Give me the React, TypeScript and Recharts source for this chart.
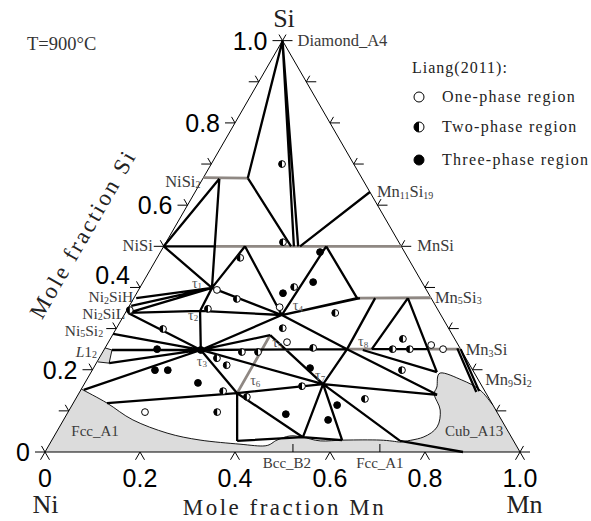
import React from 'react';
import { ScatterChart, Scatter, XAxis, YAxis } from 'recharts';

type Comp = [number, number]; // [x(Mn), x(Si)]

// ---------------- data ----------------
const siTicks = [0, 0.1, 0.2, 0.3, 0.4, 0.5, 0.6, 0.7, 0.8, 0.9, 1.0];
const mnTicks = [0, 0.2, 0.4, 0.6, 0.8, 1.0];
const siTickLabels = [
  { v: 0, t: '0' }, { v: 0.2, t: '0.2' }, { v: 0.4, t: '0.4' },
  { v: 0.6, t: '0.6' }, { v: 0.8, t: '0.8' }, { v: 1.0, t: '1.0' },
];
const mnTickLabels = [
  { v: 0, t: '0' }, { v: 0.2, t: '0.2' }, { v: 0.4, t: '0.4' },
  { v: 0.6, t: '0.6' }, { v: 0.8, t: '0.8' }, { v: 1.0, t: '1.0' },
];
const bottomPointers = [0.522, 0.705];

const nodes: Record<string, Comp> = {
  S: [0, 1],
  NiSi2E: [0, 0.667], NiSi2M: [0.035, 0.664], NiSi2R: [0.094, 0.666],
  NiSiE: [0, 0.5], NiSiB: [0.11, 0.5], MnSiE: [0.5, 0.5],
  m245: [0.171, 0.5], m291: [0.268, 0.5], m294: [0.274, 0.5], m298: [0.283, 0.5],
  m300: [0.287, 0.5], m326: [0.342, 0.5],
  Mn11Si19: [0.368, 0.632],
  T1: [0.152, 0.399], T2: [0.155, 0.343], T3: [0.204, 0.248], T4: [0.332, 0.333],
  T5: [0.332, 0.284], T6: [0.333, 0.143], T7: [0.503, 0.165], T8: [0.511, 0.25],
  Mn5Si3E: [0.625, 0.375], a357: [0.47, 0.374], a360: [0.476, 0.374],
  a375: [0.508, 0.374], a408: [0.577, 0.374],
  Mn3SiE: [0.75, 0.25], Mn3SiE2: [0.742, 0.252], b363: [0.545, 0.248], b372: [0.563, 0.25],
  b427: [0.679, 0.25], b428: [0.681, 0.25],
  Mn9Si2: [0.84, 0.148], Mn9Si2b: [0.835, 0.146],
  Ni2SiH: [0.005, 0.374], Ni2SiM: [0.004, 0.355], Ni2SiL: [0.006, 0.338], Ni5Si2: [0, 0.287],
  L12a: [0.017, 0.248], L12b: [0.027, 0.216], FccL: [0.006, 0.151], F107: [0.071, 0.119],
  c237: [0.391, 0.027], c303: [0.525, 0.036], c342: [0.611, 0.029],
  r437: [0.756, 0.139], r437b: [0.728, 0.194], r400: [0.734, 0.027], r463: [0.88, 0],
};

const tieLines: [string, string][] = [
  ['S', 'NiSi2R'], ['S', 'm294'], ['S', 'm298'], ['NiSi2R', 'm291'], ['Mn11Si19', 'm300'],
  ['NiSiE', 'NiSi2M'], ['NiSi2M', 'T1'], ['NiSiE', 'NiSiB'], ['NiSiE', 'T1'],
  ['T1', 'm245'], ['m245', 'T4'], ['T4', 'm326'], ['m326', 'a357'], ['T4', 'a357'], ['T4', 'a360'],
  ['Ni2SiH', 'T1'], ['Ni2SiM', 'T1'], ['Ni2SiL', 'T1'], ['T1', 'T2'], ['T1', 'T4'],
  ['Ni2SiL', 'T2'], ['T2', 'T4'], ['T2', 'T3'], ['Ni2SiL', 'T3'], ['T4', 'T3'], ['T4', 'T8'],
  ['Ni5Si2', 'T3'], ['L12a', 'T3'], ['L12b', 'T3'], ['FccL', 'T3'],
  ['F107', 'T6'], ['T6', 'T7'], ['T3', 'T6'], ['T3', 'T8'], ['T8', 'T7'], ['a375', 'T8'],
  ['a408', 'b372'], ['a408', 'r437b'], ['b372', 'b427'],
  ['Mn3SiE', 'Mn9Si2'], ['Mn3SiE2', 'Mn9Si2b'],
  ['T6', 'c237'], ['T6', 'c303'], ['c237', 'c303'], ['c303', 'T7'], ['T7', 'c342'], ['c303', 'c342'],
  ['T7', 'r437'], ['T7', 'r400'], ['T8', 'r437'], ['b363', 'r437b'], ['r400', 'r463'],
  ['T3', 'T7'], ['T5', 'T7'], ['T3', 'T5'],
];

const grayLines: [string, string][] = [
  ['NiSi2E', 'NiSi2R'], ['NiSiB', 'MnSiE'], ['a357', 'Mn5Si3E'],
  ['T8', 'b372'], ['b428', 'Mn3SiE'], ['T6', 'T5'],
];

// single-phase regions: curved boundary + straight closing points along edges
const fccNiRegion = {
  curve: [
    [0, 0.153], [0.071, 0.119], [0.146, 0.078], [0.234, 0.046], [0.312, 0.029],
    [0.401, 0.019], [0.456, 0.015], [0.474, 0.029], [0.496, 0.039], [0.525, 0.036],
    [0.566, 0.027], [0.617, 0.029], [0.691, 0.029], [0.735, 0.024],
  ] as Comp[],
  close: [[0.75, 0], [0, 0]] as Comp[],
};
const cubRegion = {
  curve: [
    [0.886, 0.114], [0.84, 0.151], [0.79, 0.175], [0.736, 0.192], [0.746, 0.158],
    [0.75, 0.139], [0.781, 0.102], [0.795, 0.061], [0.778, 0.036], [0.735, 0.024],
  ] as Comp[],
  close: [[0.74, 0], [1, 0]] as Comp[],
};
const l12Region = {
  curve: [[0, 0.253], [0.017, 0.248], [0.027, 0.216], [0.002, 0.219]] as Comp[],
  close: [] as Comp[],
};

const onePhasePts: Comp[] = [
  [0.162, 0.097], [0.376, 0.267], [0.318, 0.352], [0.165, 0.394], [0.683, 0.26], [0.713, 0.25],
];
const twoPhasePts: Comp[] = [
  [0.149, 0.7], [0.246, 0.51], [0.175, 0.472], [0.218, 0.372], [0.169, 0.348], [0.099, 0.299],
  [0.324, 0.401], [0.442, 0.338], [0.35, 0.301], [0.438, 0.253], [0.293, 0.243], [0.327, 0.243],
  [0.248, 0.228], [0.277, 0.211], [0.301, 0.148], [0.461, 0.16], [0.358, 0.134], [0.314, 0.097],
  [0.609, 0.129], [0.652, 0.199], [0.607, 0.25], [0.643, 0.25], [0.616, 0.275], [0.006, 0.345],
];
const threePhasePts: Comp[] = [
  [0.308, 0.386], [0.358, 0.413], [0.336, 0.486], [0.111, 0.25], [0.132, 0.199], [0.159, 0.199],
  [0.204, 0.248], [0.238, 0.168], [0.456, 0.204], [0.558, 0.114], [0.557, 0.078], [0.461, 0.092],
];

const phaseLabels: { text: string; at: Comp }[] = [
  { text: 'Diamond_A4', at: [0, 1] },
  { text: 'NiSi~2~', at: [0, 0.667] },
  { text: 'NiSi', at: [0, 0.5] },
  { text: 'Ni~2~SiH', at: [0.005, 0.374] },
  { text: 'Ni~2~SiL', at: [0.006, 0.338] },
  { text: 'Ni~5~Si~2~', at: [0, 0.287] },
  { text: 'L12', at: [0, 0.253] },
  { text: 'Mn~11~Si~19~', at: [0.368, 0.632] },
  { text: 'MnSi', at: [0.5, 0.5] },
  { text: 'Mn~5~Si~3~', at: [0.625, 0.375] },
  { text: 'Mn~3~Si', at: [0.75, 0.25] },
  { text: 'Mn~9~Si~2~', at: [0.84, 0.148] },
  { text: 'Fcc_A1', at: [0.08, 0.051] },
  { text: 'Cub_A13', at: [0.878, 0.051] },
  { text: 'Bcc_B2', at: [0.522, 0] },
  { text: 'Fcc_A1 ', at: [0.705, 0] },
];

const tauLabels: { text: string; node: string }[] = [
  { text: 'τ~1~', node: 'T1' }, { text: 'τ~2~', node: 'T2' }, { text: 'τ~3~', node: 'T3' },
  { text: 'τ~4~', node: 'T4' }, { text: 'τ~5~', node: 'T5' }, { text: 'τ~6~', node: 'T6' },
  { text: 'τ~7~', node: 'T7' }, { text: 'τ~8~', node: 'T8' },
];

const legendItems = [
  { kind: 'one', text: 'One-phase region' },
  { kind: 'two', text: 'Two-phase region' },
  { kind: 'three', text: 'Three-phase region' },
];

// ---------------- styles / geometry ----------------
const W = 591;
const H = 521;
const UNIT = 475; // px per unit of the cartesian projection
const K = Math.sqrt(3) / 2;
const X_DOMAIN: [number, number] = [-45 / UNIT, (W - 45) / UNIT];
const Y_DOMAIN: [number, number] = [-(H - 452) / UNIT, 452 / UNIT];
const SERIF = "'Liberation Serif', 'Times New Roman', serif";
const SANS = "'Liberation Sans', Arial, sans-serif";
const GRAY_LINE = '#8f8883';
const GRAY_FILL = '#dcdcdc';
const LABEL_COLOR = '#3a3a3a';

const labelOffsets: Record<string, { dx: number; dy: number; anchor: string; size?: number }> = {
  'Diamond_A4': { dx: 15, dy: 5, anchor: 'start' },
  'NiSi~2~': { dx: -3, dy: 9, anchor: 'end' },
  'NiSi': { dx: -11, dy: 5, anchor: 'end' },
  'Ni~2~SiH': { dx: -3, dy: 4, anchor: 'end', size: 15.5 },
  'Ni~2~SiL': { dx: -3, dy: 6, anchor: 'end', size: 15.5 },
  'Ni~5~Si~2~': { dx: -10, dy: 2, anchor: 'end', size: 15.5 },
  'L12': { dx: -8, dy: 9, anchor: 'end', size: 15.5 },
  'Mn~11~Si~19~': { dx: 7, dy: 5, anchor: 'start' },
  'MnSi': { dx: 16, dy: 5, anchor: 'start' },
  'Mn~5~Si~3~': { dx: 4, dy: 5, anchor: 'start' },
  'Mn~3~Si': { dx: 5, dy: 6, anchor: 'start' },
  'Mn~9~Si~2~': { dx: 6, dy: -6, anchor: 'start' },
  'Fcc_A1': { dx: 0, dy: 5, anchor: 'middle', size: 15 },
  'Cub_A13': { dx: 0, dy: 5, anchor: 'middle', size: 15 },
  'Bcc_B2': { dx: -6, dy: 16, anchor: 'middle', size: 15 },
  'Fcc_A1 ': { dx: 0, dy: 16, anchor: 'middle', size: 15 },
};
const tauOffsets: Record<string, { dx: number; dy: number }> = {
  T1: { dx: -20, dy: 0 }, T2: { dx: -12, dy: 9 }, T3: { dx: -4, dy: 16 }, T4: { dx: 11, dy: -5 },
  T5: { dx: 2, dy: 12 }, T6: { dx: 13, dy: -8 }, T7: { dx: -8, dy: -4 }, T8: { dx: 11, dy: -3 },
};

const toXY = (c: Comp) => ({ x: c[0] + c[1] / 2, y: c[1] * K });

// ---------------- helpers ----------------
const NoShape = () => <g />;

function crPath(p: { x: number; y: number }[]) {
  let d = `M${p[0].x},${p[0].y}`;
  for (let i = 0; i < p.length - 1; i++) {
    const p0 = p[i - 1] || p[i];
    const p1 = p[i];
    const p2 = p[i + 1];
    const p3 = p[i + 2] || p2;
    const c1x = p1.x + (p2.x - p0.x) / 6;
    const c1y = p1.y + (p2.y - p0.y) / 6;
    const c2x = p2.x - (p3.x - p1.x) / 6;
    const c2y = p2.y - (p3.y - p1.y) / 6;
    d += ` C${c1x},${c1y} ${c2x},${c2y} ${p2.x},${p2.y}`;
  }
  return d;
}

const segmentsLine = (stroke: string, width: number) => (props: any) => {
  const pts = props.points || [];
  let d = '';
  for (let i = 0; i + 1 < pts.length; i += 2) {
    d += `M${pts[i].x},${pts[i].y}L${pts[i + 1].x},${pts[i + 1].y}`;
  }
  return <path d={d} stroke={stroke} strokeWidth={width} fill="none" strokeLinecap="butt" />;
};

const regionLine = (nCurve: number, fill: string, smooth: boolean) => (props: any) => {
  const pts = props.points || [];
  if (!pts.length) return <g />;
  const curve = pts.slice(0, nCurve);
  const rest = pts.slice(nCurve);
  const dc = smooth ? crPath(curve) : curve.map((p: any, i: number) => `${i ? 'L' : 'M'}${p.x},${p.y}`).join('');
  const dFill = dc + rest.map((p: any) => `L${p.x},${p.y}`).join('') + 'Z';
  return (
    <g>
      <path d={dFill} fill={fill} stroke="none" />
      <path d={dc} fill="none" stroke="#000" strokeWidth={0.9} />
    </g>
  );
};

function renderRich(text: string, subSize: string) {
  if (text === 'L12') {
    return [
      <tspan key="a" fontStyle="italic">L</tspan>,
      <tspan key="b">1</tspan>,
      <tspan key="c" fontSize={subSize} dy={1.5}>2</tspan>,
    ];
  }
  const parts = text.trim().split('~');
  const out: any[] = [];
  let shifted = false;
  parts.forEach((p, i) => {
    if (!p) return;
    const isSub = i % 2 === 1;
    let dy = 0;
    if (isSub && !shifted) { dy = 1.5; shifted = true; }
    if (!isSub && shifted) { dy = -1.5; shifted = false; }
    out.push(
      <tspan key={i} fontSize={isSub ? subSize : undefined} dy={dy || undefined}>{p}</tspan>
    );
  });
  return out;
}

const Marker = ({ cx, cy, r, kind }: { cx: number; cy: number; r: number; kind: string }) => {
  if (kind === 'three') return <circle cx={cx} cy={cy} r={r} fill="#000" stroke="#000" strokeWidth={1} />;
  if (kind === 'one') return <circle cx={cx} cy={cy} r={r} fill="#fff" stroke="#000" strokeWidth={1} />;
  return (
    <g>
      <circle cx={cx} cy={cy} r={r} fill="#fff" stroke="#000" strokeWidth={1} />
      <path d={`M${cx},${cy - r} A${r},${r} 0 0 0 ${cx},${cy + r} Z`} fill="#000" />
    </g>
  );
};

const dotShape = (kind: string) => (props: any) => (
  <Marker cx={props.cx} cy={props.cy} r={3.4} kind={kind} />
);

// tick segments (pairs of cartesian points)
const HL = 10 / UNIT;
const DL = 7 / UNIT;
const BL = 9 / UNIT;
function tickSegments() {
  const segs: { x: number; y: number }[] = [];
  siTicks.forEach((s) => {
    const p = toXY([0, s]);
    segs.push(p, { x: p.x - HL, y: p.y });
    segs.push(p, { x: p.x - DL * 0.5, y: p.y + DL * K });
    const q = toXY([1 - s, s]);
    segs.push(q, { x: q.x + HL, y: q.y });
    segs.push(q, { x: q.x + DL * 0.5, y: q.y + DL * K });
  });
  mnTicks.forEach((m) => {
    const p = toXY([m, 0]);
    segs.push(p, { x: p.x - BL * 0.5, y: p.y - BL * K });
    segs.push(p, { x: p.x + BL * 0.5, y: p.y - BL * K });
  });
  bottomPointers.forEach((m) => {
    const p = toXY([m, 0]);
    segs.push(p, { x: p.x, y: p.y + 8 / UNIT });
  });
  return segs;
}

const pairData = (pairs: [string, string][]) =>
  pairs.flatMap(([a, b]) => [toXY(nodes[a]), toXY(nodes[b])]);

const textShape = (render: (p: any) => any) => (props: any) => render(props);

export default function App() {
  const triangle = [toXY([0, 0]), toXY([1, 0]), toXY([0, 1]), toXY([0, 0])];
  const regions = [
    { r: fccNiRegion, smooth: true },
    { r: cubRegion, smooth: true },
    { r: l12Region, smooth: false },
  ];
  return (
    <div style={{ position: 'absolute', left: 0, top: 0, width: W, height: H, background: '#fff' }}>
      <ScatterChart width={W} height={H} margin={{ top: 0, right: 0, bottom: 0, left: 0 }}>
        <XAxis type="number" dataKey="x" domain={X_DOMAIN} hide />
        <YAxis type="number" dataKey="y" domain={Y_DOMAIN} hide />

        {regions.map(({ r, smooth }, i) => (
          <Scatter
            key={`reg${i}`}
            data={[...r.curve, ...r.close].map(toXY)}
            line={regionLine(r.curve.length, GRAY_FILL, smooth)}
            shape={NoShape}
            isAnimationActive={false}
          />
        ))}

        <Scatter
          data={triangle.flatMap((p, i) => (i < 3 ? [p, triangle[i + 1]] : []))}
          line={segmentsLine('#000', 1)}
          shape={NoShape}
          isAnimationActive={false}
        />
        <Scatter data={tickSegments()} line={segmentsLine('#000', 1)} shape={NoShape} isAnimationActive={false} />

        <Scatter data={pairData(grayLines)} line={segmentsLine(GRAY_LINE, 2.8)} shape={NoShape} isAnimationActive={false} />
        <Scatter data={pairData(tieLines)} line={segmentsLine('#000', 2.3)} shape={NoShape} isAnimationActive={false} />

        <Scatter data={onePhasePts.map(toXY)} shape={dotShape('one')} isAnimationActive={false} />
        <Scatter data={twoPhasePts.map(toXY)} shape={dotShape('two')} isAnimationActive={false} />
        <Scatter data={threePhasePts.map(toXY)} shape={dotShape('three')} isAnimationActive={false} />

        {/* left axis numbers */}
        <Scatter
          data={siTickLabels.map((l) => ({ ...toXY([0, l.v]), t: l.t }))}
          shape={textShape((p) => {
            const shiftUp = p.payload.t === '0.4';
            return (
              <text x={p.cx + (shiftUp ? -10 : -15)} y={p.cy + 9 + (shiftUp ? -12 : 0)} textAnchor="end"
                fontFamily={SANS} fontSize={25} fill="#000">{p.payload.t}</text>
            );
          })}
          isAnimationActive={false}
        />
        {/* bottom axis numbers */}
        <Scatter
          data={mnTickLabels.map((l) => ({ ...toXY([l.v, 0]), t: l.t }))}
          shape={textShape((p) => (
            <text x={p.cx} y={p.cy + 35} textAnchor="middle" fontFamily={SANS} fontSize={25} fill="#000">
              {p.payload.t}
            </text>
          ))}
          isAnimationActive={false}
        />
        {/* corner element names */}
        <Scatter
          data={[
            { ...toXY([0, 1]), t: 'Si', dx: 1.5, dy: -14 },
            { ...toXY([0, 0]), t: 'Ni', dx: 0.5, dy: 61 },
            { ...toXY([1, 0]), t: 'Mn', dx: 4.5, dy: 61 },
          ]}
          shape={textShape((p) => (
            <text x={p.cx + p.payload.dx} y={p.cy + p.payload.dy} textAnchor="middle" fontFamily={SERIF}
              fontSize={26} fill="#222">{p.payload.t}</text>
          ))}
          isAnimationActive={false}
        />
        {/* axis titles */}
        <Scatter
          data={[{ ...toXY([0.5, 0]), t: 'Mole fraction Mn' }]}
          shape={textShape((p) => (
            <text x={p.cx + 2} y={p.cy + 63} textAnchor="middle" fontFamily={SERIF} fontSize={23}
              letterSpacing={2.5} fill="#222">{p.payload.t}</text>
          ))}
          isAnimationActive={false}
        />
        <Scatter
          data={[{ ...toXY([0, 0.4375]), t: 'Mole fraction Si' }]}
          shape={textShape((p) => {
            const x = p.cx - 76 * K;
            const y = p.cy - 76 * 0.5;
            return (
              <text x={x} y={y} textAnchor="middle" dominantBaseline="central" fontFamily={SERIF} fontSize={23}
                letterSpacing={2.5} fill="#222" transform={`rotate(-60 ${x} ${y})`}>{p.payload.t}</text>
            );
          })}
          isAnimationActive={false}
        />
        {/* phase labels */}
        <Scatter
          data={phaseLabels.map((l) => ({ ...toXY(l.at), t: l.text }))}
          shape={textShape((p) => {
            const o = labelOffsets[p.payload.t];
            return (
              <text x={p.cx + o.dx} y={p.cy + o.dy} textAnchor={o.anchor} fontFamily={SERIF} fontSize={o.size || 16.5}
                fill={LABEL_COLOR}>{renderRich(p.payload.t, '10px')}</text>
            );
          })}
          isAnimationActive={false}
        />
        <Scatter
          data={tauLabels.map((l) => ({ ...toXY(nodes[l.node]), t: l.text, n: l.node }))}
          shape={textShape((p) => {
            const o = tauOffsets[p.payload.n];
            return (
              <text x={p.cx + o.dx} y={p.cy + o.dy} fontFamily={SERIF} fontSize={14} fill="#555">
                {renderRich(p.payload.t, '9px')}
              </text>
            );
          })}
          isAnimationActive={false}
        />
      </ScatterChart>

      <svg width={W} height={H} style={{ position: 'absolute', left: 0, top: 0, pointerEvents: 'none' }}>
        <text x={27} y={50} fontFamily={SERIF} fontSize={18.5} fill="#333">T=900°C</text>
        <text x={412} y={73} fontFamily={SERIF} fontSize={16} letterSpacing={1} fill="#222">Liang(2011):</text>
        {legendItems.map((it, i) => {
          const cy = [97, 127, 160][i];
          return (
            <g key={it.kind}>
              <Marker cx={419} cy={cy} r={5} kind={it.kind} />
              <text x={442} y={cy + 5} fontFamily={SERIF} fontSize={16} letterSpacing={1.3} fill="#222">{it.text}</text>
            </g>
          );
        })}
      </svg>
    </div>
  );
}
